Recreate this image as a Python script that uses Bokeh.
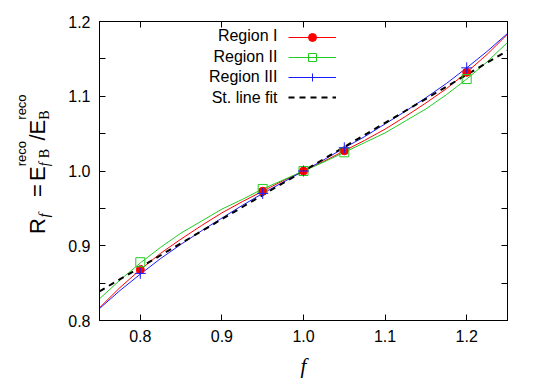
import math
from bokeh.plotting import figure
from bokeh.layouts import row
from bokeh.models import (Label, Legend, LegendItem, LinearAxis, FixedTicker, Range1d,
                          CustomJSTickFormatter)
from bokeh.embed import file_html
from bokeh.resources import INLINE

# ---------------- data ----------------
f_points = [0.8, 0.95, 1.0, 1.05, 1.2]
region1_points = [0.868, 0.973, 1.000, 1.027, 1.132]
region2_points = [0.878, 0.976, 1.000, 1.025, 1.123]
region3_points = [0.863, 0.970, 1.000, 1.031, 1.138]

f_curve = [0.75, 0.775, 0.8, 0.825, 0.85, 0.875, 0.9, 0.925, 0.95, 0.975, 1.0,
           1.025, 1.05, 1.075, 1.1, 1.125, 1.15, 1.175, 1.2, 1.225, 1.25]
region1_curve = [0.817, 0.844, 0.868, 0.890, 0.909, 0.927, 0.944, 0.959, 0.973, 0.987, 1.000,
                 1.013, 1.027, 1.041, 1.056, 1.073, 1.091, 1.110, 1.132, 1.156, 1.183]
region2_curve = [0.829, 0.854, 0.877, 0.898, 0.917, 0.933, 0.949, 0.962, 0.976, 0.988, 1.000,
                 1.012, 1.025, 1.038, 1.051, 1.067, 1.083, 1.102, 1.123, 1.146, 1.172]
region3_curve = [0.816, 0.840, 0.862, 0.883, 0.902, 0.920, 0.937, 0.954, 0.970, 0.985, 1.000,
                 1.015, 1.031, 1.046, 1.063, 1.080, 1.098, 1.117, 1.138, 1.160, 1.184]
fit_f = [0.75, 1.25]
fit_line = [0.839, 1.161]

x_ticks = [0.8, 0.9, 1.0, 1.1, 1.2]
x_tick_labels = ["0.8", "0.9", "1.0", "1.1", "1.2"]
y_ticks = [0.8, 0.9, 1.0, 1.1, 1.2]
y_tick_labels = ["0.8", "0.9", "1.0", "1.1", "1.2"]
y_minor_ticks = [0.85, 0.95, 1.05, 1.15]

series_names = ["Region I", "Region II", "Region III", "St. line fit"]

# ---------------- styles ----------------
RED = "#ff0000"
GREEN = "#22cc22"
BLUE = "#1a1aff"
FONT = "Liberation Sans"
SERIF = "Liberation Serif"
TICK_FS = "16px"

PAGE_W, PAGE_H = 540, 378
LEFT_W = 56              # width of the strip that carries the y title
FL, FT = 99, 21          # frame left/top in page pixels
FW, FH = 408, 299        # frame size
FB = FT + FH

p = figure(frame_width=FW, frame_height=FH, output_backend="svg", toolbar_location=None,
           x_range=Range1d(0.75, 1.25), y_range=Range1d(0.8, 1.2),
           min_border_left=FL - LEFT_W, min_border_top=FT,
           min_border_right=PAGE_W - FL - FW, min_border_bottom=PAGE_H - FB)
p.title.visible = False
p.background_fill_color = "white"
p.border_fill_color = "white"
p.outline_line_color = "black"
p.outline_line_width = 1
p.outline_line_alpha = 1
p.xgrid.visible = False
p.ygrid.visible = False

x_labels = {t: s for t, s in zip(x_ticks, x_tick_labels)}
y_labels = {t: s for t, s in zip(y_ticks, y_tick_labels)}

def style_axis(ax, ticker, labels=None, show=True):
    ax.ticker = ticker
    ax.axis_line_color = "black"
    ax.major_tick_in = 6
    ax.major_tick_out = 0
    ax.minor_tick_in = 6
    ax.minor_tick_out = 0
    ax.major_tick_line_color = "black"
    ax.minor_tick_line_color = "black"
    if show:
        ax.major_label_text_font = FONT
        ax.major_label_text_font_size = TICK_FS
        ax.major_label_text_color = "black"
        ax.major_label_standoff = 9
        if labels:
            ax.major_label_overrides = labels
    else:
        ax.formatter = CustomJSTickFormatter(code="return ''")
        ax.major_label_standoff = 0

bottom_ax = p.below[0]
left_ax = p.left[0]
style_axis(bottom_ax, FixedTicker(ticks=x_ticks), x_labels)
style_axis(left_ax, FixedTicker(ticks=y_ticks, minor_ticks=y_minor_ticks), y_labels)
top_ax = LinearAxis()
style_axis(top_ax, FixedTicker(ticks=x_ticks), show=False)
right_ax = LinearAxis()
style_axis(right_ax, FixedTicker(ticks=y_ticks, minor_ticks=y_minor_ticks), show=False)
p.add_layout(top_ax, "above")
p.add_layout(right_ax, "right")

# x axis title
bottom_ax.axis_label = "f"
bottom_ax.axis_label_text_font = SERIF
bottom_ax.axis_label_text_font_style = "italic"
bottom_ax.axis_label_text_font_size = "21px"
bottom_ax.axis_label_text_color = "black"
bottom_ax.axis_label_standoff = 9

# ---------------- glyphs ----------------
l1 = p.line(f_curve, region1_curve, line_color=RED, line_width=1)
l2 = p.line(f_curve, region2_curve, line_color=GREEN, line_width=1)
l3 = p.line(f_curve, region3_curve, line_color=BLUE, line_width=1)
l4 = p.line(fit_f, fit_line, line_color="black", line_width=2, line_dash="6 5")
s1 = p.scatter(f_points, region1_points, marker="circle", size=8, fill_color=RED, line_color=RED)
s2 = p.scatter(f_points, region2_points, marker="square", size=9, fill_color=None,
               line_color=GREEN, line_width=1)
s3 = p.scatter(f_points, region3_points, marker="cross", size=11, line_color=BLUE, line_width=1)

# ---------------- legend (samples only; texts right-aligned at left) ----------------
LEG_X = 288        # page x of sample start
LEG_TOP = 25       # page y of legend top
ROW = 20.5
legend = Legend(items=[
    LegendItem(label=" ", renderers=[l1, s1]),
    LegendItem(label=" ", renderers=[l2, s2]),
    LegendItem(label=" ", renderers=[l3, s3]),
    LegendItem(label=" ", renderers=[l4]),
], location=(LEG_X - FL, FB - (LEG_TOP + 4 * ROW)))
legend.glyph_width = 48
legend.glyph_height = int(ROW)
legend.label_height = int(ROW)
legend.label_text_font_size = "10px"
legend.label_standoff = 0
legend.spacing = 0
legend.padding = 0
legend.margin = 0
legend.border_line_alpha = 0
legend.background_fill_alpha = 0
p.add_layout(legend, "center")

for i, name in enumerate(series_names):
    p.add_layout(Label(x=277 - FL, y=FB - (LEG_TOP + ROW * (i + 0.5)), x_units="screen",
                       y_units="screen", text=name, text_align="right", text_baseline="middle",
                       text_font=FONT, text_font_size=TICK_FS, text_color="black"))

# ---------------- y axis title strip (its frame is aligned with the main frame) ----------------
t = figure(frame_width=LEFT_W, frame_height=FH, output_backend="svg", toolbar_location=None,
           x_range=Range1d(0, LEFT_W), y_range=Range1d(0, FH),
           x_axis_location=None, y_axis_location=None,
           min_border_left=0, min_border_right=0, min_border_top=FT,
           min_border_bottom=PAGE_H - FB)
t.title.visible = False
t.outline_line_color = None
t.xgrid.visible = False
t.ygrid.visible = False
t.background_fill_color = "white"
t.border_fill_color = "white"

MAIN = 22
SUB = 14
SUP = 13
base_x = 36.5            # page x of main baseline
sub_x = base_x + 7
sup_x = base_x - 16
start_y = 233.5          # page y where the text starts (bottom)
ang = math.pi / 2
def piece(offset, bx, text, font=FONT, size=MAIN, style="normal"):
    t.add_layout(Label(x=bx, y=FB - (start_y - offset), x_units="data", y_units="data",
                       text=text, angle=ang, text_align="left", text_baseline="alphabetic",
                       text_font=font, text_font_size=f"{size}px", text_font_style=style,
                       text_color="black"))

piece(0.0, base_x, "R")
piece(16.5, sub_x, "f", SERIF, SUB + 1, "italic")
piece(37.0, base_x, "=")
piece(53.0, base_x, "E")
piece(67.7, sup_x, "reco", FONT, SUP)
piece(67.7, sub_x, "f", SERIF, SUB, "italic")
piece(75.7, sub_x, "B", SERIF, SUB)
piece(93.5, base_x, "/")
piece(99.6, base_x, "E")
piece(114.3, sup_x, "reco", FONT, SUP)
piece(114.3, sub_x, "B", SERIF, SUB)

layout = row(t, p, spacing=0)
open("out.html", "w").write(file_html(layout, INLINE))
